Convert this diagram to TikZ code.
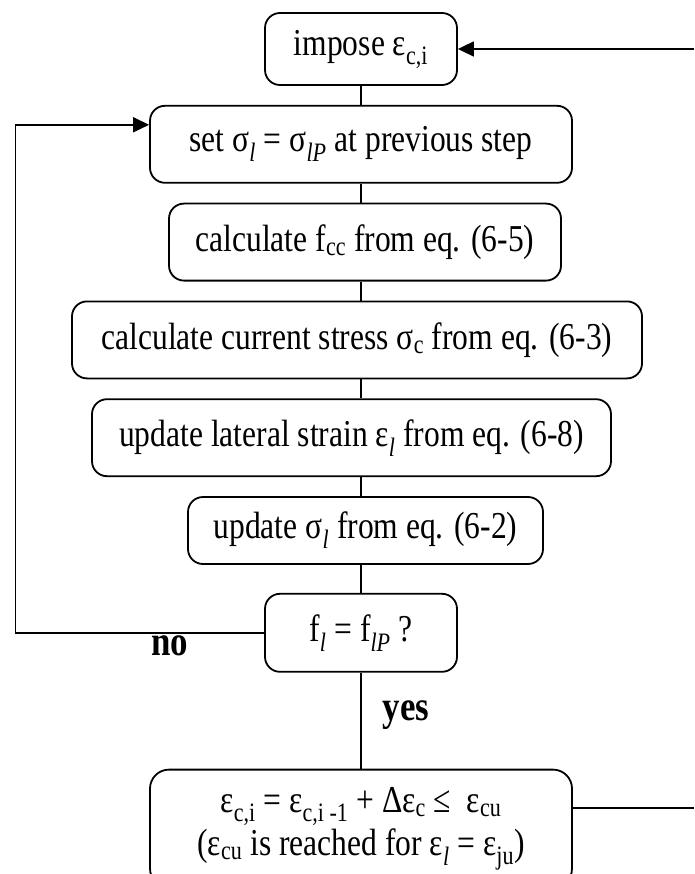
\documentclass[tikz,border=0pt]{standalone}
\usepackage{fontspec}
\setmainfont{Liberation Serif}[FakeStretch=0.83]
\usepackage{tikz}
\usetikzlibrary{positioning, arrows.meta}
\newcommand\Sb[1]{\textsubscript{#1}}
\newcommand\Il[1]{\textsubscript{\textit{#1}}}

\begin{document}
\begin{tikzpicture}[x=1pt, y=-1pt, line width=1.8pt,
    box/.style={draw, rounded corners=15pt, inner sep=0pt, minimum height=77pt, align=center, font=\fontsize{38}{40}\selectfont},
    lbl/.style={anchor=base, font=\fontsize{42}{44}\selectfont\bfseries},
    arr/.style={-{Triangle[length=16pt, width=15pt]}}]
    \useasboundingbox (0,0) rectangle (694,874);
    \coordinate (edgeL) at (15.5,0);
    \coordinate (edgeR) at (694,0);

    \node [box, minimum width=192pt, minimum height=72pt] (b1) at (361,49) {impose ε\Sb{c,i}};
    \node [box, minimum width=422pt, below=19pt of b1] (b2) {set σ\Il{l} = σ\Il{lP} at previous step};
    \node [box, minimum width=392pt, below=19pt of b2, xshift=4pt] (b3) {calculate f\Sb{cc} from eq. (6-5)};
    \node [box, minimum width=570pt, below=19pt of b3, xshift=-8pt] (b4) {calculate current stress σ\Sb{c} from eq. (6-3)};
    \node [box, minimum width=519pt, below=19pt of b4, xshift=-5.5pt] (b5) {update lateral strain ε\Il{l} from eq. (6-8)};
    \node [box, minimum width=355pt, minimum height=67pt, below=19pt of b5, xshift=14pt] (b6) {update σ\Il{l} from eq. (6-2)};
    \node [box, minimum width=192pt, minimum height=78pt, below=28pt of b6, xshift=-4.5pt] (b7) {f\Il{l} = f\Il{lP} ?};
    \node [box, minimum width=422pt, minimum height=118pt, rounded corners=19pt, below=96pt of b7] (b8)
        {ε\Sb{c,i} = ε\Sb{c,i -1} + Δε\Sb{c} ≤~ ε\Sb{cu}\\[3pt](ε\Sb{cu} is reached for ε\Il{l} = ε\Sb{ju})};

    % main column
    \foreach \a/\b in {b1/b2, b2/b3, b3/b4, b4/b5, b5/b6, b6/b7, b7/b8}{
      \draw (\a.south -| b1) -- (\b.north -| b1);
    }

    % loop back when not converged
    \coordinate (b2in) at ([yshift=19.5pt]b2.west);
    \draw [arr] (b7.west) -- (b7.west -| edgeL) |- (b2in);
    \node [lbl] (no) at (170,655) {no};
    \node [lbl] (yes) at (406,720) {yes};

    % next strain increment
    \coordinate (b8out) at ([yshift=20.5pt]b8.east);
    \draw (b8out) -- (b8out -| edgeR);
    \draw [arr] (b1.east -| edgeR) -- (b1.east);
\end{tikzpicture}
\end{document}
